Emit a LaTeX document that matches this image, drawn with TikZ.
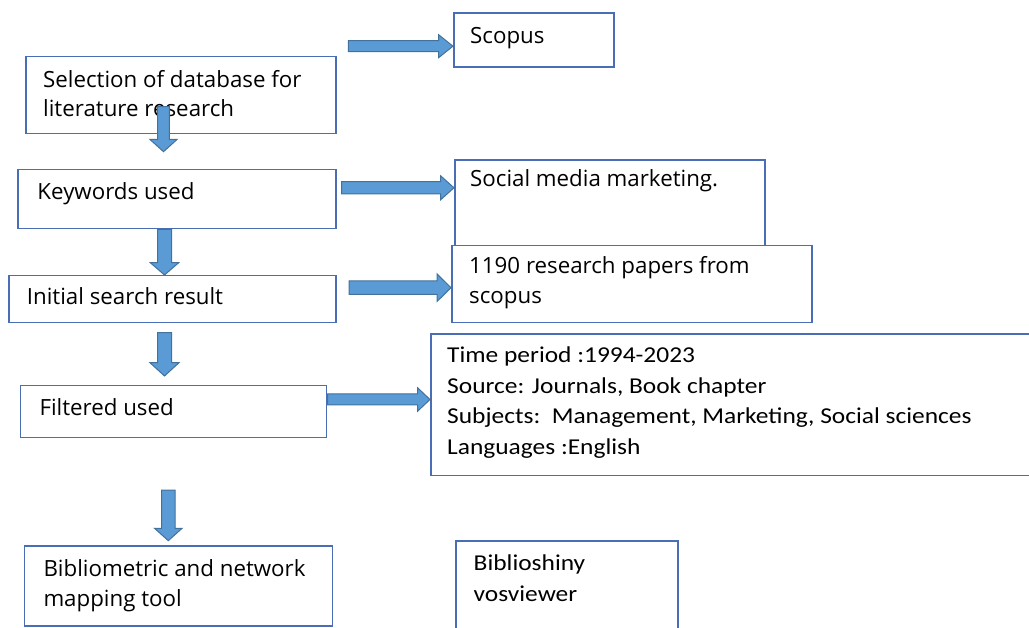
\documentclass[tikz,border=0pt]{standalone}
\usepackage{fontspec}
\setmainfont{Open Sans}
\newfontfamily\calib[FakeStretch=1.12]{Carlito}
\usetikzlibrary{calc}
\definecolor{boxblue}{HTML}{4A6EB5}
\definecolor{arrfill}{HTML}{5B9BD5}
\definecolor{arredge}{HTML}{41719C}
\newcommand\myrarrow[5]{% tail, tip, shaft half, head half, head length
  \filldraw[blockarrow] ($(#1)+(0,-#3)$) -- ($(#2)+(-#5,-#3)$) -- ($(#2)+(-#5,-#4)$) -- (#2)
    -- ($(#2)+(-#5,#4)$) -- ($(#2)+(-#5,#3)$) -- ($(#1)+(0,#3)$) -- cycle;}
\newcommand\mydarrow[5]{%
  \filldraw[blockarrow] ($(#1)+(-#3,0)$) -- ($(#2)+(-#3,-#5)$) -- ($(#2)+(-#4,-#5)$) -- (#2)
    -- ($(#2)+(#4,-#5)$) -- ($(#2)+(#3,-#5)$) -- ($(#1)+(#3,0)$) -- cycle;}
\begin{document}
\begin{tikzpicture}[x=1pt,y=-1pt,
  box/.style={draw=boxblue, fill=white, line width=1.5pt, anchor=north west, inner sep=0pt},
  lbl/.style={anchor=base west, inner sep=0pt, font=\fontsize{22.3}{30}\selectfont},
  clbl/.style={anchor=base west, inner sep=0pt, font=\calib\fontsize{22.7}{31}\selectfont},
  blockarrow/.style={fill=arrfill, draw=arredge, line width=1pt, line join=miter}]
\useasboundingbox (0,0) rectangle (1029,628);
\clip (0,0) rectangle (1029,628);
% boxes
\node[box, minimum width=160pt, minimum height=54pt] (scopus) at (453,12.5) {};
\node[box, minimum width=310pt, minimum height=77pt] (sel) at (25,56) {};
\node[box, minimum width=310pt, minimum height=86pt] (soc) at (454,159.5) {};
\node[box, minimum width=318pt, minimum height=59pt] (kw) at (17,169) {};
\node[box, minimum width=360pt, minimum height=77pt] (res) at (451,245) {};
\node[box, minimum width=327pt, minimum height=47pt] (init) at (8,275) {};
\node[box, minimum width=306pt, minimum height=52pt] (filt) at (19.5,385) {};
\node[box, minimum width=620pt, minimum height=141pt] (tp) at (430,333.5) {};
\node[box, minimum width=308pt, minimum height=80pt] (bib) at (23.5,545) {};
\node[box, minimum width=222pt, minimum height=110pt] (bsh) at (455,540) {};
% texts
\node[lbl] (tscopus) at (470,43.5) {Scopus};
\node[lbl] (tsel1) at (43,87.3) {Selection of database for};
\node[lbl] (tsel2) at (43,116.8) {literature research};
\node[lbl] (tkw) at (37.3,199.3) {Keywords used};
\node[lbl] (tsoc) at (470,186.7) {Social media marketing.};
\node[lbl] (tres1) at (469,273.3) {1190 research papers from};
\node[lbl] (tres2) at (469,304) {scopus};
\node[lbl] (tinit) at (26.7,305) {Initial search result};
\node[lbl] (tfilt) at (39.3,416) {Filtered used};
\node[clbl] (ttp1) at (447,362.7) {Time period :1994-2023};
\node[clbl] (ttp2) at (447,393.3) {Source: Journals, Book chapter};
\node[clbl] (ttp3) at (447,424) {Subjects:\ \ Management, Marketing, Social sciences};
\node[clbl] (ttp4) at (447,455) {Languages :English};
\node[lbl] (tbib1) at (43.3,576.7) {Bibliometric and network};
\node[lbl] (tbib2) at (43.3,606.7) {mapping tool};
\node[clbl] (tbsh1) at (473.5,570.7) {Biblioshiny};
\node[clbl] (tbsh2) at (473.5,601.7) {vosviewer};
% right arrows
\coordinate (a1) at (348.3,46.2);
\coordinate (a1t) at (scopus.west |- a1);
\myrarrow{a1}{a1t}{5.5}{11.5}{14.4}
\coordinate (a2) at (341.7,187.8);
\coordinate (a2t) at (soc.west |- a2);
\myrarrow{a2}{a2t}{6.2}{12}{13.4}
\coordinate (a3) at (349,287.7);
\coordinate (a3t) at (res.west |- a3);
\myrarrow{a3}{a3t}{6.7}{13.8}{14}
\coordinate (a4) at (327.5,399.5);
\coordinate (a4t) at (tp.west |- a4);
\myrarrow{a4}{a4t}{5.5}{11.8}{12.5}
% down arrows
\coordinate (d1) at (163.5,106.7);
\coordinate (d1t) at (163.5,151.7);
\mydarrow{d1}{d1t}{5.8}{13.7}{12.4}
\coordinate (d2) at ($(kw.south west)+(147.5,0)$);
\coordinate (d2t) at (d2 |- init.north);
\mydarrow{d2}{d2t}{7}{14.2}{12.3}
\coordinate (d3) at (164.5,332.7);
\coordinate (d3t) at (164.5,376);
\mydarrow{d3}{d3t}{7}{14.5}{13.3}
\coordinate (d4) at (168.3,490);
\coordinate (d4t) at (168.3,540.7);
\mydarrow{d4}{d4t}{6.7}{13.8}{12.4}
\end{tikzpicture}
\end{document}
